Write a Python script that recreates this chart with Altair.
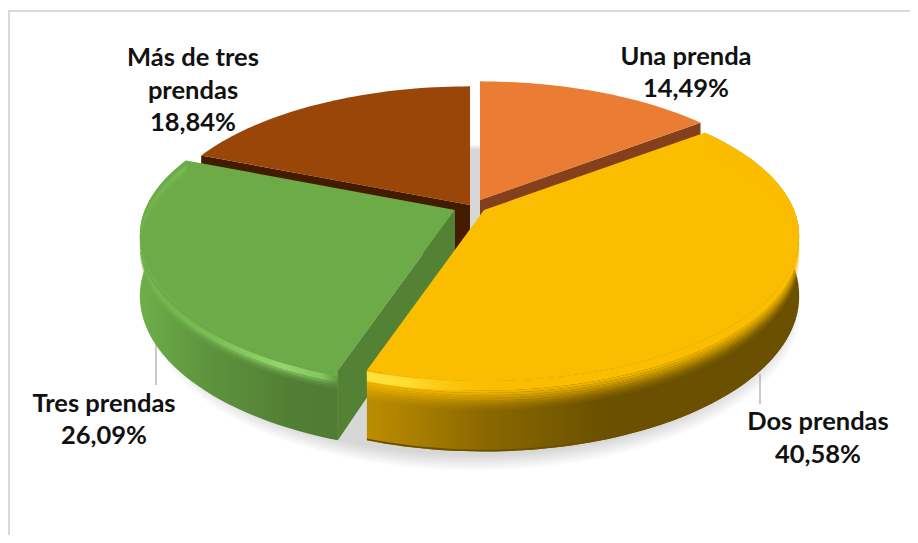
import math
import altair as alt
import pandas as pd

# ---- data
categories = ["Una prenda", "Dos prendas", "Tres prendas", "Más de tres prendas"]
shares = [14.49, 40.58, 26.09, 18.84]
label_lines = [["Una prenda", "14,49%"], ["Dos prendas", "40,58%"],
               ["Tres prendas", "26,09%"], ["Más de tres", "prendas", "18,84%"]]

# ---- layout and style
CX, CY, RX, RY, P, DROP = 482, 210, 310, 140, 0.18, 58
OFFSETS = [(-2, -10), (2, 0), (-27, 0), (-12, -5)]
TOP = ["#ea7d33", "#fbbd00", "#6dab49", "#9b4609"]
CUT = ["#84401a", "#6a5000", "#548235", "#431c00"]
LABEL_POS = [(686, 57, 32), (818, 422, 33), (104, 404, 32), (193, 58, 32.5)]
LEADERS = [(156, 345, 385), (760, 374, 404)]
FONT = "Lato"

X = alt.X("x:Q", scale=alt.Scale(domain=[8, 910], nice=False, zero=False), axis=None)
Y = alt.Y("y:Q", scale=alt.Scale(domain=[535, 8], nice=False, zero=False), axis=None)


def project(deg, r=1.0, off=(0, 0), drop=0.0, sc=1.0):
    a = math.radians(deg)
    u, v = r * math.sin(a), r * math.cos(a)
    s = 1 / (1 + P * v)
    return (CX + off[0] + RX * u * s * sc, CY + off[1] - RY * v * s * sc + drop * s)


def arc(a0, a1, **kw):
    n = max(2, int(abs(a1 - a0) / 1.5))
    return [project(a0 + (a1 - a0) * i / n, **kw) for i in range(n + 1)]


def poly(points, fill, op=1.0):
    pts = list(points) + [points[0]]
    df = pd.DataFrame({"x": [p[0] for p in pts], "y": [p[1] for p in pts], "i": range(len(pts))})
    return alt.Chart(df).mark_line(fill=fill, fillOpacity=op, strokeWidth=0, strokeOpacity=0,
                                   interpolate="linear", clip=False).encode(
        x=X, y=Y, order=alt.Order("i:Q"))


def grad(*stops):
    return alt.Gradient(gradient="linear", x1=0, x2=1, y1=0, y2=0,
                        stops=[alt.GradientStop(offset=o, color=c) for o, c in stops])


edges = [0]
for s in shares:
    edges.append(edges[-1] + s / sum(shares) * 360)
span = [(edges[i], edges[i + 1]) for i in range(4)]


def top_face(i):
    a0, a1 = span[i]
    return poly([project(0, 0, OFFSETS[i])] + arc(a0, a1, off=OFFSETS[i]), TOP[i])


def cut_face(i, deg):
    o = OFFSETS[i]
    return poly([project(0, 0, o), project(deg, 1, o), project(deg, 1, o, DROP),
                 project(0, 0, o, DROP)], CUT[i])


def band(i, d0, d1, fill, op=1.0, a0=None, a1=None):
    b0, b1 = span[i]
    a0 = b0 if a0 is None else a0
    a1 = b1 if a1 is None else a1
    o = OFFSETS[i]
    return poly(arc(a0, a1, off=o, drop=d0) + arc(a1, a0, off=o, drop=d1), fill, op)


layers = []

# soft ground shadow
for k in range(10):
    sc = 1.0 + 0.004 * k
    layers.append(poly(arc(0, 360, off=(-8, 4 + k), drop=DROP, sc=sc), "#000000", 0.014))

# back slices
layers += [cut_face(0, span[0][1]), top_face(0)]
layers += [cut_face(3, span[3][0]), cut_face(3, span[3][1]), top_face(3)]

# green slice
layers.append(cut_face(2, span[2][0]))
layers.append(band(2, 0, DROP, grad((0, "#6fae4a"), (0.3, "#5f963f"), (0.75, "#527f34"), (1, "#4f7b32"))))
layers.append(top_face(2))
layers.append(band(2, 0, 6, "#6dab49"))
green_rim = grad((0, "#72b34c"), (0.35, "#79bd53"), (0.72, "#92d66c"), (0.92, "#84c65e"), (1, "#5f963f"))
layers.append(band(2, 5, 10, green_rim))
for d, op in [(12, 0.6), (14, 0.3), (16, 0.12)]:
    layers.append(band(2, d - 2, d, green_rim, op))

# yellow slice
layers.append(band(1, 0, DROP, grad((0, "#bd8d00"), (0.28, "#8a6800"), (0.55, "#6a5000"), (1, "#6a5000"))))
layers.append(band(1, DROP - 1.5, DROP, grad((0, "#6a5000"), (0.3, "#6a5000"), (1, "#6a5000"))))
layers.append(top_face(1))
layers.append(band(1, 0, 8, "#fbbd00"))
for d, op in [(10, 0.9), (12, 0.78), (14, 0.64), (16, 0.5), (18, 0.36), (20, 0.24), (22, 0.14), (24, 0.06)]:
    layers.append(band(1, d - 2, d, "#fbbd00", op))
layers.append(band(1, 1, 9, grad((0, "#ffe23c"), (0.1, "#ffdc30"), (0.3, "rgba(251,189,0,0)"),
                                 (1, "rgba(251,189,0,0)")), 1.0, a0=110))

# leaders
leader_df = pd.DataFrame([{"x": l[0], "y": l[1], "y2": l[2]} for l in LEADERS])
layers.append(alt.Chart(leader_df).mark_rule(color="#a6a6a6", strokeWidth=1.2).encode(
    x=X, y=Y, y2="y2:Q"))

# frame
frame_v = pd.DataFrame({"x": [9], "y": [10], "y2": [535]})
frame_h = pd.DataFrame({"x": [8], "x2": [910], "y": [11]})
layers.append(alt.Chart(frame_v).mark_rule(color="#d9d9d9", strokeWidth=2).encode(x=X, y=Y, y2="y2:Q"))
layers.append(alt.Chart(frame_h).mark_rule(color="#d9d9d9", strokeWidth=2).encode(x=X, x2="x2:Q", y=Y))

# labels
rows = []
for lines, (lx, ly, gap) in zip(label_lines, LABEL_POS):
    for j, t in enumerate(lines):
        rows.append({"x": lx, "y": ly + j * gap, "t": t})
layers.append(alt.Chart(pd.DataFrame(rows)).mark_text(
    font=FONT, fontSize=25.5, fontWeight="bold", color="#111111", align="center", baseline="middle"
).encode(x=X, y=Y, text="t:N"))

chart = alt.layer(*layers).properties(
    width=902, height=527, padding=0, autosize=alt.AutoSizeParams(type="none")
).configure_view(stroke=None)

chart.save("out.html", embed_options={"renderer": "svg", "actions": False})
